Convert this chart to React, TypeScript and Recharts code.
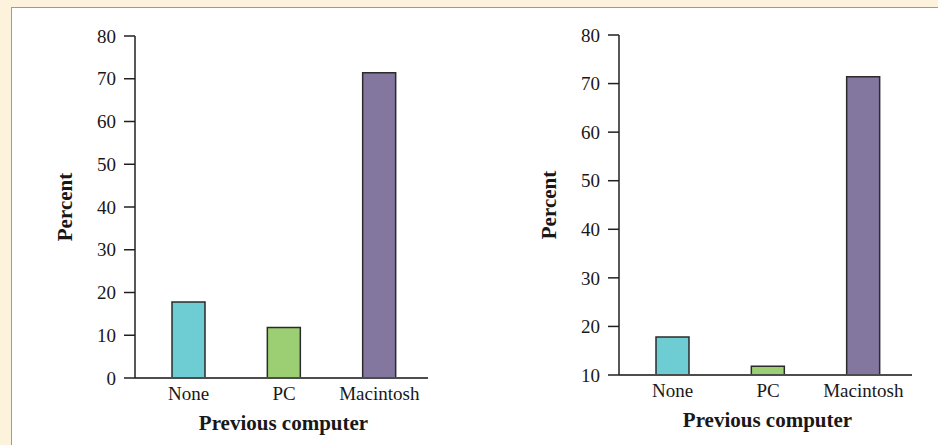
import React from 'react';
import { BarChart, Bar, XAxis, YAxis, Cell } from 'recharts';

// Previous computer of new Mac buyers (percent)
const categories = ['None', 'PC', 'Macintosh'];
const percents = [17.8, 11.8, 71.4];
const barColors = ['#6ecdd2', '#9ccf73', '#83769f'];

const leftTicks = [0, 10, 20, 30, 40, 50, 60, 70, 80];
const rightTicks = [10, 20, 30, 40, 50, 60, 70, 80];

const data = categories.map((name, i) => ({ name, value: percents[i] }));

const FONT = '"Liberation Serif", "Times New Roman", serif';

const YLabel = (props: any) => {
  const { viewBox } = props;
  const x = viewBox.x + 65;
  const y = viewBox.y + viewBox.height / 2;
  return (
    <text x={x} y={y} transform={`rotate(-90, ${x}, ${y})`} textAnchor="middle" dominantBaseline="central"
      fontFamily={FONT} fontWeight="bold" fontSize={21} fill="#1a1718">
      Percent
    </text>
  );
};

const XLabel = (props: any) => {
  const { viewBox } = props;
  const x = viewBox.x + viewBox.width / 2 + 2;
  return (
    <text x={x} y={viewBox.y + 52} textAnchor="middle" fontFamily={FONT} fontWeight="bold" fontSize={21} fill="#1a1718">
      Previous computer
    </text>
  );
};

interface PanelProps {
  left: number;
  width: number;
  top: number;
  bottom: number;
  right: number;
  domain: [number, number];
  ticks: number[];
}

const Panel: React.FC<PanelProps> = ({ left, width, top, bottom, right, domain, ticks }) => (
  <div style={{ position: 'absolute', left, top: 0 }}>
    <BarChart width={width} height={445} data={data} margin={{ top, right, bottom, left: 0 }}>
      <XAxis
        dataKey="name"
        tickLine={false}
        axisLine={{ stroke: '#4d4d4d', strokeWidth: 2 }}
        padding={{ left: 6, right: 1 }}
        fontFamily={FONT}
        fontSize={19}
        stroke="#4d4d4d"
        tick={{ fill: '#1a1718' }}
        tickMargin={3}
        height={30}
        label={<XLabel />}
      />
      <YAxis
        type="number"
        domain={domain}
        ticks={ticks}
        allowDataOverflow
        width={135}
        tickSize={11}
        tickMargin={8}
        fontFamily={FONT}
        fontSize={19}
        stroke="#231f20"
        axisLine={{ stroke: '#231f20', strokeWidth: 1.5 }}
        tickLine={{ stroke: '#231f20', strokeWidth: 1.5 }}
        tick={{ fill: '#1a1718' }}
        label={<YLabel />}
      />
      <Bar dataKey="value" barSize={33} stroke="#2b2b2b" strokeWidth={1.5} isAnimationActive={false}>
        {data.map((d, i) => (
          <Cell key={d.name} fill={barColors[i]} />
        ))}
      </Bar>
    </BarChart>
  </div>
);

export default function App() {
  return (
    <div style={{ position: 'fixed', left: 0, top: 0, width: 938, height: 445, background: '#fdf3dc', overflow: 'hidden' }}>
      <div style={{ position: 'absolute', left: 11, top: 7, right: 0, bottom: 0, background: '#ffffff', borderLeft: '1.5px solid #6bbf5f', borderTop: '1.5px solid #6bbf5f' }} />
      <Panel left={0} width={460} top={36} bottom={37} right={32} domain={[0, 80]} ticks={leftTicks} />
      <Panel left={484} width={454} top={35} bottom={40} right={26} domain={[10, 80]} ticks={rightTicks} />
    </div>
  );
}
